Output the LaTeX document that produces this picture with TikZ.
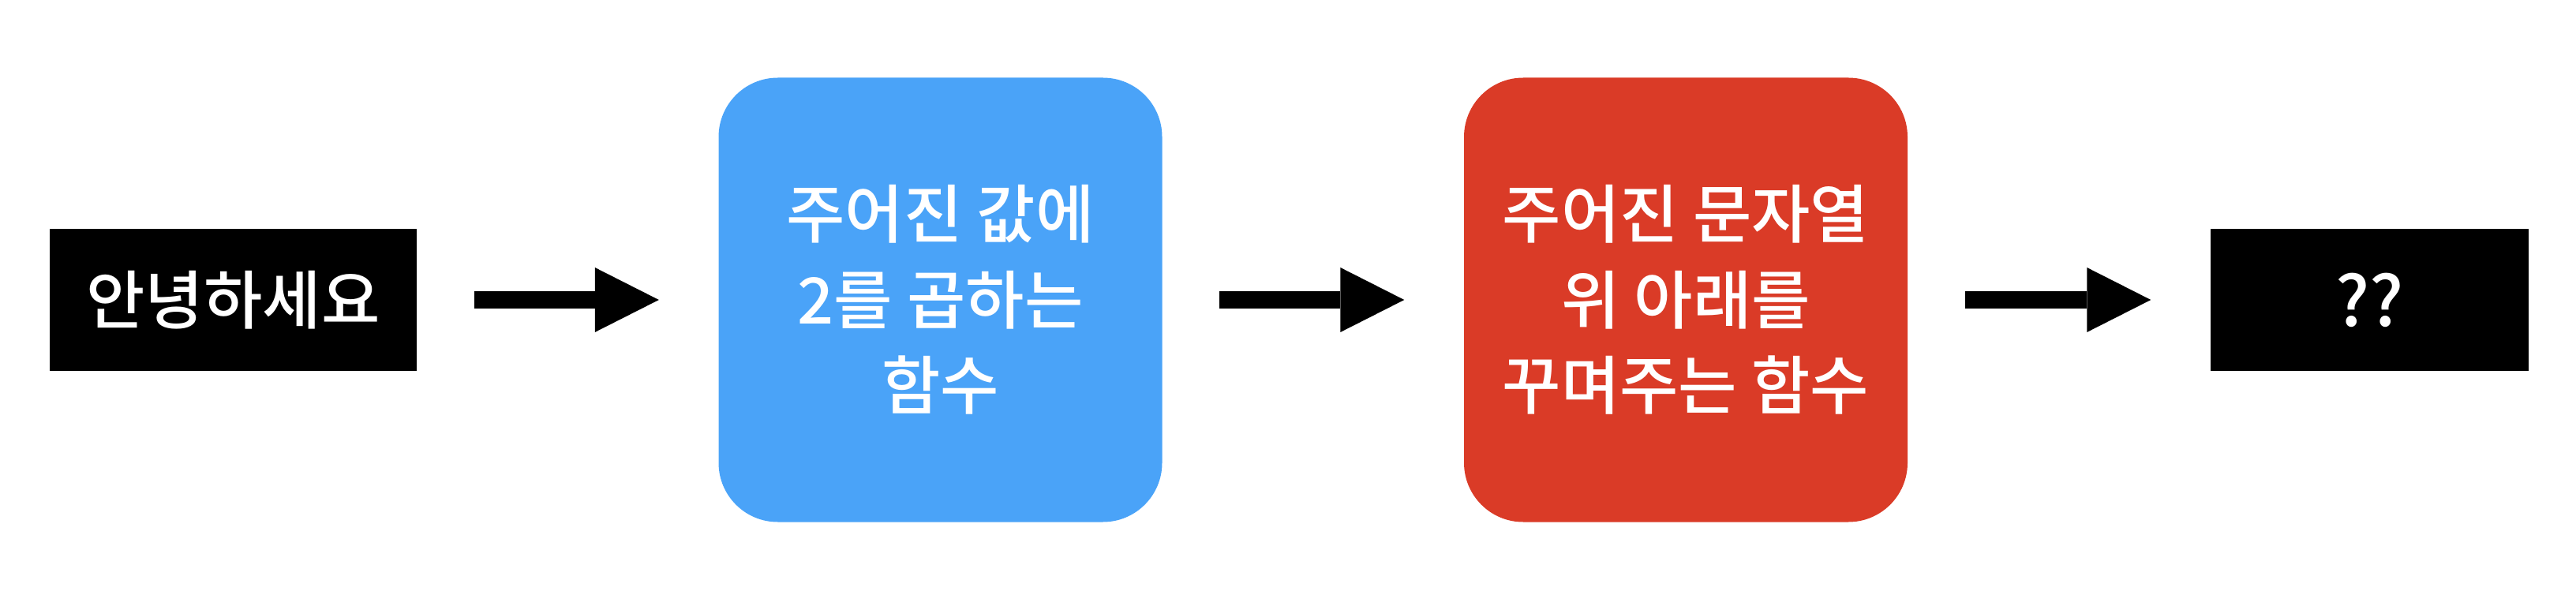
\documentclass[tikz,border=0pt]{standalone}
\usepackage{fontspec}
\setmainfont{Noto Sans CJK KR}[UprightFont=* Medium]
\usetikzlibrary{arrows.meta}
\definecolor{keyblue}{RGB}{74,163,248}
\definecolor{keyred}{RGB}{218,59,39}

\begin{document}
\begin{tikzpicture}[
	blackbox/.style={shape=rectangle,fill=black,text=white,minimum width=#1,minimum height=1.8cm,inner sep=0pt,font=\fontsize{23}{30.7}\selectfont},
	funcbox/.style={shape=rectangle,rounded corners=0.75cm,fill=#1,text=white,minimum width=5.62cm,minimum height=5.63cm,inner sep=0pt,align=center,font=\fontsize{23}{30.9}\selectfont},
	flow/.style={line width=0.22cm,-{Triangle[length=0.81cm,width=0.82cm,line width=0pt]},shorten <=0.72cm,shorten >=0.75cm}]
			\useasboundingbox (0,0) rectangle (32.64,-7.54);
			
			\node[blackbox=4.65cm] (hello) at (2.955,-3.80) {안녕하세요};
			\node[funcbox=keyblue] (double) at (11.915,-3.80) {주어진 값에\\2를 곱하는\\함수};
			\node[funcbox=keyred] (decorate) at (21.36,-3.80) {주어진 문자열\\위 아래를\\꾸며주는 함수};
			\node[blackbox=4.03cm,font=\fontsize{25}{30}\selectfont] (result) at (30.025,-3.80) {??};
			
			\path [flow, black] (hello) edge (double);
			\path [flow, black] (double) edge (decorate);
			\path [flow, black] (decorate) edge (result);
			\end{tikzpicture}
\end{document}
